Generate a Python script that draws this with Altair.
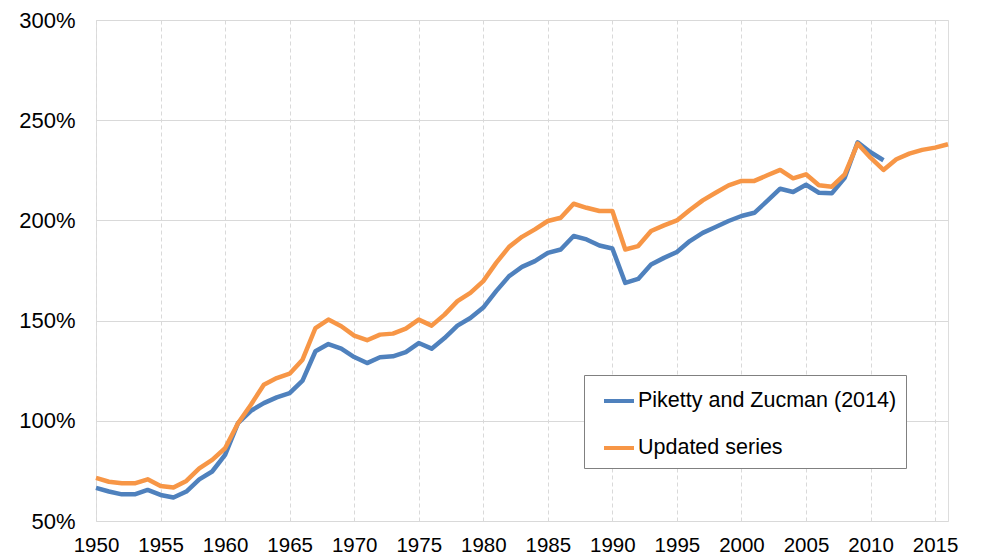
import altair as alt
import pandas as pd

years_pz = list(range(1950, 2012))
pz_values = [66.5, 64.7, 63.3, 63.3, 65.5, 63.0, 61.7, 64.7, 70.8, 74.7,
             83.0, 98.8, 105.0, 108.8, 111.7, 113.8, 120.0, 134.7, 138.3, 136.0,
             131.8, 128.8, 131.7, 132.2, 134.3, 138.8, 136.0, 141.3, 147.5, 151.3,
             156.5, 164.7, 172.2, 176.8, 179.7, 183.8, 185.5, 192.2, 190.5, 187.5,
             186.0, 168.8, 170.8, 178.0, 181.3, 184.2, 189.7, 193.8, 196.7, 199.7,
             202.2, 203.8, 209.7, 215.8, 214.2, 217.8, 213.8, 213.5, 221.3, 239.0,
             234.0, 230.0]

years_upd = list(range(1950, 2017))
upd_values = [71.5, 69.6, 68.8, 68.8, 70.8, 67.5, 66.7, 70.0, 76.3, 80.5,
              86.3, 98.8, 108.0, 118.0, 121.3, 123.5, 130.5, 146.3, 150.5, 147.2,
              142.5, 140.2, 143.0, 143.5, 146.0, 150.5, 147.5, 153.0, 159.7, 163.8,
              169.7, 178.8, 186.8, 191.8, 195.5, 199.7, 201.3, 208.3, 206.3, 204.7,
              204.7, 185.5, 187.2, 194.7, 197.5, 200.0, 205.2, 210.0, 213.8, 217.5,
              219.7, 219.7, 222.5, 225.2, 221.0, 223.0, 217.5, 216.8, 223.0, 238.3,
              231.3, 225.2, 230.5, 233.3, 235.2, 236.3, 238.0]

series_names = ["Piketty and Zucman (2014)", "Updated series"]
series_colors = ["#4F81BD", "#F79646"]
x_ticks = list(range(1950, 2016, 5))
y_ticks = [50, 100, 150, 200, 250, 300]

df_pz = pd.DataFrame({"year": years_pz, "value": pz_values, "series": series_names[0]})
df_upd = pd.DataFrame({"year": years_upd, "value": upd_values, "series": series_names[1]})

FONT = "Liberation Sans"

x_enc = alt.X("year:Q",
              scale=alt.Scale(domain=[1950, 2016], nice=False, zero=False),
              axis=alt.Axis(values=x_ticks, format="d", title=None, grid=True,
                            gridDash=[4, 3], gridColor="#d9d9d9", domain=False,
                            ticks=False, labelPadding=14, labelFontSize=20.5,
                            labelFont=FONT, labelColor="#000000",
                            labelFlush=False, labelOverlap=False))
y_enc = alt.Y("value:Q",
              scale=alt.Scale(domain=[50, 300], nice=False, zero=False),
              axis=alt.Axis(values=y_ticks, labelExpr="datum.value + '%'", title=None,
                            grid=True, gridColor="#d9d9d9", domain=False, ticks=False,
                            labelPadding=21, labelFontSize=22, labelFont=FONT,
                            labelColor="#000000", labelFlush=False, labelOverlap=False))
color_enc = alt.Color("series:N",
                      scale=alt.Scale(domain=series_names, range=series_colors),
                      legend=alt.Legend(title=None, orient="none", legendX=488, legendY=355,
                                        fillColor="white", strokeColor="#808080",
                                        padding=9, symbolOffset=9, symbolType="stroke",
                                        symbolSize=900, symbolStrokeWidth=4,
                                        labelFontSize=21.5, labelFont=FONT,
                                        labelColor="#000000", labelLimit=500,
                                        rowPadding=19, labelOffset=2))

line_pz = alt.Chart(df_pz).mark_line(strokeWidth=4.5, strokeJoin="round").encode(
    x=x_enc, y=y_enc, color=color_enc)
line_upd = alt.Chart(df_upd).mark_line(strokeWidth=4.5, strokeJoin="round").encode(
    x=x_enc, y=y_enc, color=color_enc)

chart = alt.layer(line_pz, line_upd).properties(
    width=852, height=501,
    autosize=alt.AutoSizeParams(type="none"),
    padding={"left": 88, "top": 12, "right": 25, "bottom": 38},
).configure_view(stroke="#898989", strokeWidth=1).configure(background="white")

chart.save("out.html", embed_options={"renderer": "svg", "actions": False})
